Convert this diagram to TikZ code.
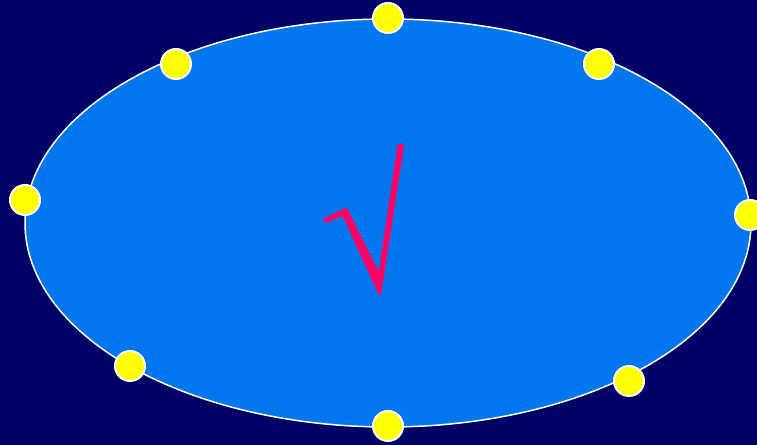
\documentclass[tikz,border=0pt]{standalone}
\usepackage{tikz}

\definecolor{bgnavy}{HTML}{000066}
\definecolor{dialblue}{HTML}{0077EE}
\definecolor{marksun}{HTML}{FFFF00}
\definecolor{rootpink}{HTML}{FF0066}

\begin{document}
\begin{tikzpicture}[x=0.02cm, y=-0.02cm,
  dot/.style={circle, draw=white, line width=0.04cm, fill=marksun, minimum size=0.6cm, inner sep=0pt}]
\fill[bgnavy] (0,0) rectangle (757,445);
\useasboundingbox (0,0) rectangle (757,445);
\draw[white, line width=0.03cm, fill=dialblue] (388,223) ellipse [x radius=363, y radius=204];
% root sign
\fill[rootpink] (323.3,218.7) -- (346.7,207.3) -- (378.7,271.7) -- (397.7,144) -- (404.3,144)
  -- (381,295) -- (378.7,295) -- (342.7,216) -- (325.3,223.3) -- cycle;
% dots round the rim
\node[dot] (top)    at (388,18)  {};
\node[dot] (topr)   at (599,64)  {};
\node[dot] (right)  at (750,215) {};
\node[dot] (botr)   at (629,381) {};
\node[dot] (bot)    at (388,426) {};
\node[dot] (botl)   at (130,366) {};
\node[dot] (left)   at (25,200)  {};
\node[dot] (topl)   at (176,64)  {};
\end{tikzpicture}
\end{document}
